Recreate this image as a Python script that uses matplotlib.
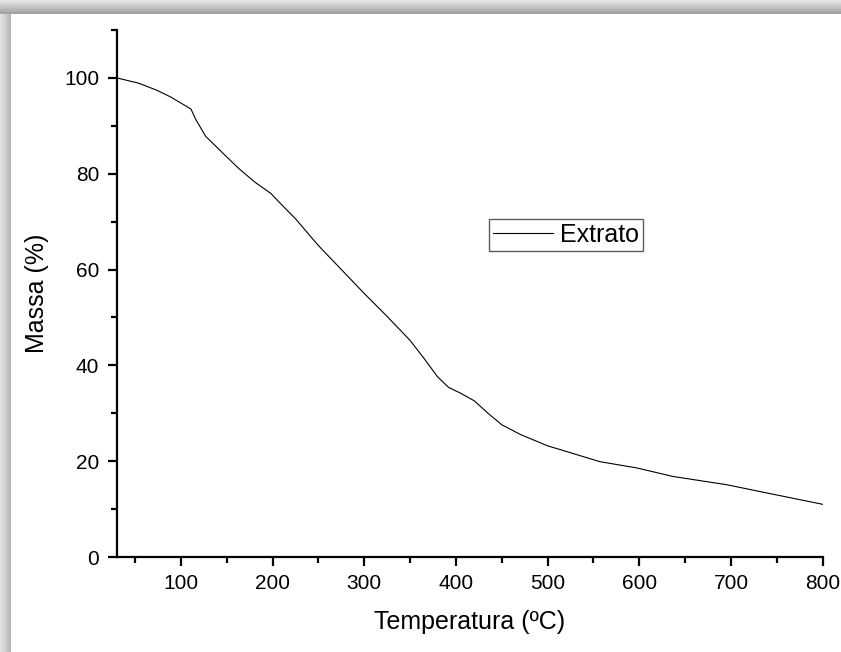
import numpy as np
import matplotlib.pyplot as plt
from matplotlib.patches import Rectangle
from matplotlib.ticker import MultipleLocator

plt.rcParams['font.family'] = ['Liberation Sans', 'DejaVu Sans']

# TGA curve of the extract
temp = [30, 54, 74, 89, 111, 116, 127, 149, 163, 181, 198, 211, 225, 250, 275, 300,
        325, 350, 365, 380, 392, 405, 420, 435, 450, 470, 500, 514, 557, 597, 637,
        695, 746, 800]
massa = [100, 98.9, 97.4, 96, 93.5, 91.4, 87.8, 83.7, 81.1, 78.2, 75.9, 73.3, 70.6,
         65.0, 60.0, 55.0, 50.2, 45.2, 41.5, 37.6, 35.4, 34.2, 32.6, 30.0, 27.6,
         25.6, 23.2, 22.4, 19.9, 18.6, 16.8, 15.1, 13.1, 11.0]

fig = plt.figure(figsize=(8.41, 6.52), dpi=100)

# grey shadow frame on top and left
top_cols = ['#e4e4e4', '#dcdcdc', '#d4d4d4', '#cccccc', '#c4c4c4', '#bcbcbc', '#b4b4b4', '#acacac', '#a4a4a4']
for i, c in enumerate(top_cols):
    h = 14 / len(top_cols)
    fig.add_artist(Rectangle((0, 1 - (i + 1) * h / 652), 1, h / 652, transform=fig.transFigure,
                             color=c, lw=0, zorder=0))
left_cols = ['#e0e0e0', '#d8d8d8', '#d0d0d0', '#c8c8c8', '#c0c0c0', '#b8b8b8']
for i, c in enumerate(left_cols):
    w = 11 / len(left_cols)
    fig.add_artist(Rectangle((i * w / 841, 0), w / 841, 1 - 14 / 652, transform=fig.transFigure,
                             color=c, lw=0, zorder=0))

ax = fig.add_axes([0.1388, 0.1457, 0.8394, 0.8083])
ax.patch.set_alpha(0)
ax.plot(temp, massa, color='black', lw=0.8, label='Extrato')

ax.set_xlim(30, 800)
ax.set_ylim(0, 110)
ax.xaxis.set_major_locator(MultipleLocator(100))
ax.xaxis.set_minor_locator(MultipleLocator(50))
ax.yaxis.set_major_locator(MultipleLocator(20))
ax.yaxis.set_minor_locator(MultipleLocator(10))
ax.set_yticks([0, 20, 40, 60, 80, 100])

for s in ['top', 'right']:
    ax.spines[s].set_visible(False)
for s in ['left', 'bottom']:
    ax.spines[s].set_linewidth(1.6)

ax.tick_params(which='major', direction='out', length=6.5, width=1.6, labelsize=15, pad=6)
ax.tick_params(which='minor', direction='out', length=4, width=1.6)

ax.set_xlabel('Temperatura (ºC)', fontsize=18, labelpad=12)
ax.set_ylabel('Massa (%)', fontsize=18, labelpad=11)

leg = ax.legend(loc='upper left', bbox_to_anchor=(0.527, 0.641), borderaxespad=0,
                fontsize=18, frameon=True, fancybox=False, handlelength=2.4,
                handletextpad=0.3, borderpad=0.15)
leg.get_frame().set_edgecolor('#333333')
leg.get_frame().set_linewidth(1.0)

fig.savefig('out.png', dpi=100)
